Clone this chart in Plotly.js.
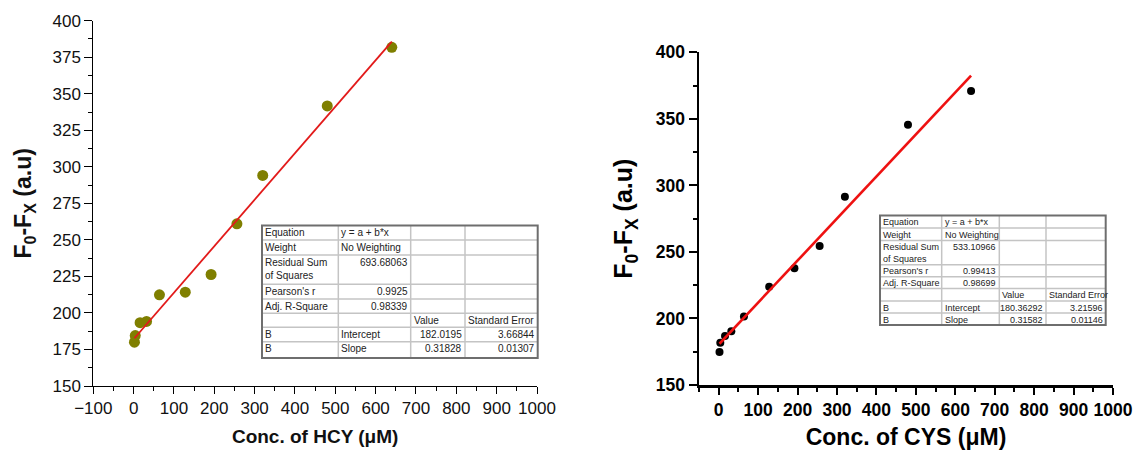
<!DOCTYPE html>
<html><head><meta charset="utf-8">
<script src="https://cdn.plot.ly/plotly-3.0.1.min.js"></script>
<style>html,body{margin:0;padding:0;background:#fff}</style>
</head><body><div id="chart" style="width:1135px;height:450px"></div>
<script>
// ---------------- data ----------------
const hcyConc = [2, 4, 16, 32, 64, 128, 192, 256, 320, 480, 640];
const hcyResp = [180, 184.5, 193.3, 194.2, 212.4, 214.2, 226.3, 261, 294.1, 341.7, 381.8];
const hcyIntercept = 182.0195;
const hcySlope = 0.31828;

const cysConc = [2, 4, 16, 32, 64, 128, 192, 256, 320, 480, 640];
const cysResp = [174.8, 181.8, 186.9, 190.4, 201.4, 223.9, 237.7, 254.5, 291.5, 345.6, 370.9];
const cysIntercept = 180.36292;
const cysSlope = 0.31582;

const xTickVals = [-100, 0, 100, 200, 300, 400, 500, 600, 700, 800, 900, 1000];
const xTickValsCys = [0, 100, 200, 300, 400, 500, 600, 700, 800, 900, 1000];

const hcyTable = [
  ["Equation", "y = a + b*x", "", ""],
  ["Weight", "No Weighting", "", ""],
  ["Residual Sum<br>of Squares", "693.68063", "", ""],
  ["Pearson's r", "0.9925", "", ""],
  ["Adj. R-Square", "0.98339", "", ""],
  ["", "", "Value", "Standard Error"],
  ["B", "Intercept", "182.0195", "3.66844"],
  ["B", "Slope", "0.31828", "0.01307"]
];
const cysTable = [
  ["Equation", "y = a + b*x", "", ""],
  ["Weight", "No Weighting", "", ""],
  ["Residual Sum<br>of Squares", "533.10966", "", ""],
  ["Pearson's r", "0.99413", "", ""],
  ["Adj. R-Square", "0.98699", "", ""],
  ["", "", "Value", "Standard Error"],
  ["B", "Intercept", "180.36292", "3.21596"],
  ["B", "Slope", "0.31582", "0.01146"]
];

// ---------------- geometry ----------------
const W = 1135, H = 450;
const px = v => v / W;
const py = v => 1 - v / H;

function fitLine(xs, a, b) {
  const x0 = Math.min(...xs), x1 = Math.max(...xs);
  return { x: [x0, x1], y: [a + b * x0, a + b * x1] };
}
const hcyFit = fitLine(hcyConc, hcyIntercept, hcySlope);
const cysFit = fitLine(cysConc, cysIntercept, cysSlope);

function buildTable(rows, colX, rowY, fontSize) {
  const shapes = [], annotations = [];
  for (let i = 1; i < rowY.length - 1; i++) {
    shapes.push({type: 'line', xref: 'paper', yref: 'paper', x0: px(colX[0]), x1: px(colX[colX.length - 1]),
      y0: py(rowY[i]), y1: py(rowY[i]), line: {color: '#c4c4c4', width: 1.5}});
  }
  for (let j = 1; j < colX.length - 1; j++) {
    shapes.push({type: 'line', xref: 'paper', yref: 'paper', x0: px(colX[j]), x1: px(colX[j]),
      y0: py(rowY[0]), y1: py(rowY[rowY.length - 1]), line: {color: '#c4c4c4', width: 1.5}});
  }
  shapes.push({type: 'rect', xref: 'paper', yref: 'paper', x0: px(colX[0]), x1: px(colX[colX.length - 1]),
    y0: py(rowY[0]), y1: py(rowY[rowY.length - 1]), line: {color: '#6e6e6e', width: 2}, fillcolor: 'rgba(0,0,0,0)'});
  const isNum = s => /^[0-9.]+$/.test(s);
  rows.forEach((row, r) => {
    row.forEach((txt, c) => {
      if (!txt) return;
      const right = isNum(txt);
      annotations.push({
        xref: 'paper', yref: 'paper', showarrow: false,
        x: right ? px(colX[c + 1] - 2) : px(colX[c] + 2),
        xanchor: right ? 'right' : 'left',
        y: py(rowY[r] + 0.5), yanchor: 'top',
        text: txt, align: 'left', borderpad: 0,
        font: {family: 'Arial, Liberation Sans, sans-serif', size: fontSize, color: '#222'}
      });
    });
  });
  return {shapes, annotations};
}

const tblL = buildTable(hcyTable, [262, 338.3, 410.7, 465, 537.7],
  [225.5, 240, 255, 284.3, 299, 313.3, 327.3, 341.7, 358], 10);
const tblR = buildTable(cysTable, [880, 941.7, 999.3, 1046, 1105.7],
  [215.5, 228, 240.5, 264.7, 276.7, 288.5, 301, 313, 325], 9);

const traces = [
  {x: hcyConc, y: hcyResp, type: 'scatter', mode: 'markers', xaxis: 'x', yaxis: 'y',
   marker: {color: '#7f7f00', size: 11}},
  {x: hcyFit.x, y: hcyFit.y, type: 'scatter', mode: 'lines', xaxis: 'x', yaxis: 'y',
   line: {color: '#e21a1a', width: 1.8}},
  {x: cysConc, y: cysResp, type: 'scatter', mode: 'markers', xaxis: 'x2', yaxis: 'y2',
   marker: {color: '#000', size: 8}},
  {x: cysFit.x, y: cysFit.y, type: 'scatter', mode: 'lines', xaxis: 'x2', yaxis: 'y2',
   line: {color: '#ee1111', width: 2.6}}
];

const fontL = {family: 'Arial, Liberation Sans, sans-serif', size: 17, color: '#111'};
const fontR = {family: 'Arial, Liberation Sans, sans-serif', size: 17.5, color: '#000', weight: 'bold'};

const layout = {
  width: W, height: H, margin: {l: 0, r: 0, t: 0, b: 0},
  paper_bgcolor: '#fff', plot_bgcolor: 'rgba(0,0,0,0)', showlegend: false,
  xaxis: {
    domain: [px(93.3), px(537)], range: [-100, 1000.001], anchor: 'y',
    showgrid: false, zeroline: false, showline: true, linecolor: '#000', linewidth: 1,
    ticks: 'outside', ticklen: 7, tickwidth: 1, tickcolor: '#000',
    tickmode: 'array', tickvals: xTickVals, ticklabeloverflow: 'allow',
    minor: {ticks: 'outside', tick0: 0, dtick: 50, ticklen: 4, tickcolor: '#000', tickwidth: 1},
    tickfont: fontL,
    title: {text: '<b>Conc. of HCY (μM)</b>', font: {family: 'Arial, Liberation Sans, sans-serif', size: 19, color: '#111'}, standoff: 12}
  },
  yaxis: {
    domain: [py(386), py(20.7)], range: [150, 400], anchor: 'x',
    showgrid: false, zeroline: false, showline: true, linecolor: '#000', linewidth: 1,
    ticks: 'outside', ticklen: 8, tickwidth: 1, tickcolor: '#000', tick0: 150, dtick: 25,
    minor: {ticks: 'outside', dtick: 12.5, ticklen: 4, tickcolor: '#000', tickwidth: 1},
    tickfont: fontL,
    title: {text: '<b>F<sub>0</sub>-F<sub>X</sub> (a.u)</b>', font: {family: 'Arial, Liberation Sans, sans-serif', size: 23, color: '#111'}, standoff: 14}
  },
  xaxis2: {
    domain: [px(699), px(1113)], range: [-50, 1000.001], anchor: 'y2',
    showgrid: false, zeroline: false, showline: true, linecolor: '#000', linewidth: 2.5,
    ticks: 'outside', ticklen: 7, tickwidth: 2, tickcolor: '#000',
    tickmode: 'array', tickvals: xTickValsCys, ticklabeloverflow: 'allow',
    minor: {ticks: 'outside', tick0: 0, dtick: 50, ticklen: 4, tickcolor: '#000', tickwidth: 2},
    tickfont: fontR,
    title: {text: '<b>Conc. of CYS (μM)</b>', font: {family: 'Arial, Liberation Sans, sans-serif', size: 23, color: '#000'}, standoff: 12}
  },
  yaxis2: {
    domain: [py(385), py(52.3)], range: [150, 400], anchor: 'x2',
    showgrid: false, zeroline: false, showline: true, linecolor: '#000', linewidth: 2.5,
    ticks: 'outside', ticklen: 8, tickwidth: 2, tickcolor: '#000', tick0: 150, dtick: 50,
    minor: {ticks: 'outside', dtick: 25, ticklen: 4, tickcolor: '#000', tickwidth: 2},
    tickfont: fontR,
    title: {text: '<b>F<sub>0</sub>-F<sub>X</sub> (a.u)</b>', font: {family: 'Arial, Liberation Sans, sans-serif', size: 25, color: '#000'}, standoff: 16}
  },
  shapes: [...tblL.shapes, ...tblR.shapes],
  annotations: [...tblL.annotations, ...tblR.annotations]
};

Plotly.newPlot('chart', traces, layout, {staticPlot: true, displayModeBar: false});
</script></body></html>
